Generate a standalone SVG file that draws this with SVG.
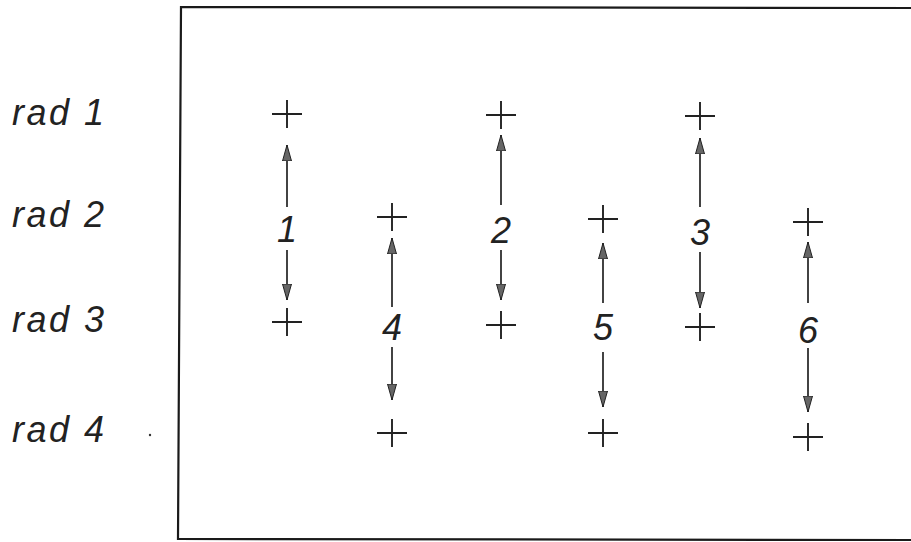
<svg xmlns="http://www.w3.org/2000/svg" width="911" height="542" viewBox="0 0 911 542">
<defs>
<style>
.lbl{font-family:"Liberation Sans","DejaVu Sans",sans-serif;font-style:italic;font-size:36px;letter-spacing:2.5px;fill:#222}
.num{font-family:"Liberation Sans","DejaVu Sans",sans-serif;font-style:italic;font-size:36px;fill:#222;text-anchor:middle}
.cross{stroke:#222;stroke-width:1.9;fill:none}
.arr{stroke:#222;stroke-width:1.7;fill:none;marker-end:url(#ah)}
.frame{stroke:#1a1a1a;stroke-width:2.2;fill:none}
</style>
<marker id="ah" markerUnits="userSpaceOnUse" markerWidth="18" markerHeight="12" refX="16" refY="6" orient="auto">
<path d="M0,1.5 L16,6 L0,10.5 Z" fill="#666" stroke="#222" stroke-width="1"/>
</marker>
<path id="x" d="M-15,0 H15 M0,-14 V14"/>
</defs>
<rect width="911" height="542" fill="#fff"/>
<polyline class="frame" points="911,8 181,7 178,539 911,540"/>
<g id="row-labels">
<text class="lbl" x="12" y="125">rad 1</text>
<text class="lbl" x="12" y="227">rad 2</text>
<text class="lbl" x="12" y="332">rad 3</text>
<text class="lbl" x="12" y="442">rad 4</text>
<circle cx="150" cy="435" r="1.2" fill="#333"/>
</g>
<g id="p1a" class="cross"><use href="#x" x="287" y="114"/></g>
<g id="p1b" class="cross"><use href="#x" x="287" y="322"/></g>
<g id="p2a" class="cross"><use href="#x" x="501" y="115"/></g>
<g id="p2b" class="cross"><use href="#x" x="501" y="325"/></g>
<g id="p3a" class="cross"><use href="#x" x="700" y="116"/></g>
<g id="p3b" class="cross"><use href="#x" x="700" y="327"/></g>
<g id="p4a" class="cross"><use href="#x" x="392" y="217"/></g>
<g id="p4b" class="cross"><use href="#x" x="392" y="433"/></g>
<g id="p5a" class="cross"><use href="#x" x="603" y="219"/></g>
<g id="p5b" class="cross"><use href="#x" x="603" y="433"/></g>
<g id="p6a" class="cross"><use href="#x" x="808" y="222"/></g>
<g id="p6b" class="cross"><use href="#x" x="808" y="437"/></g>
<g id="n1"><text class="num" x="287" y="242">1</text></g>
<g id="n2"><text class="num" x="501" y="243">2</text></g>
<g id="n3"><text class="num" x="700" y="245">3</text></g>
<g id="n4"><text class="num" x="392" y="340">4</text></g>
<g id="n5"><text class="num" x="603" y="340">5</text></g>
<g id="n6"><text class="num" x="808" y="343">6</text></g>
<g id="connectors">
<line class="arr" x1="287" y1="207" x2="287" y2="145"/>
<line class="arr" x1="287" y1="250" x2="287" y2="300"/>
<line class="arr" x1="501" y1="205" x2="501" y2="135"/>
<line class="arr" x1="501" y1="250" x2="501" y2="300"/>
<line class="arr" x1="700" y1="207" x2="700" y2="138"/>
<line class="arr" x1="700" y1="252" x2="700" y2="308"/>
<line class="arr" x1="392" y1="307" x2="392" y2="238"/>
<line class="arr" x1="392" y1="347" x2="392" y2="400"/>
<line class="arr" x1="603" y1="303" x2="603" y2="243"/>
<line class="arr" x1="603" y1="352" x2="603" y2="407"/>
<line class="arr" x1="808" y1="303" x2="808" y2="242"/>
<line class="arr" x1="808" y1="348" x2="808" y2="412"/>
</g>
</svg>
